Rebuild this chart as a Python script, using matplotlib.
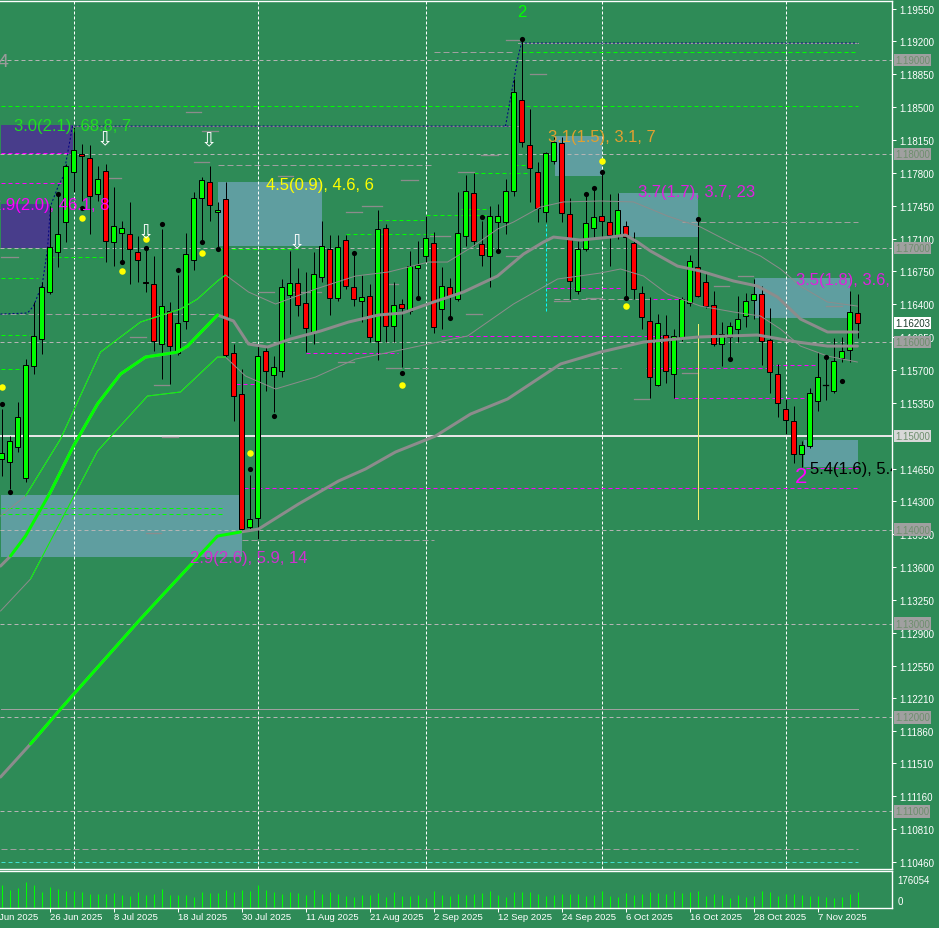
import matplotlib
matplotlib.use("Agg")
import matplotlib.pyplot as plt
from matplotlib.patches import Rectangle
from matplotlib.transforms import blended_transform_factory as btf

# ---------------- data ----------------
tick_dates = ["16 Jun 2025", "26 Jun 2025", "8 Jul 2025", "18 Jul 2025", "30 Jul 2025",
              "11 Aug 2025", "21 Aug 2025", "2 Sep 2025", "12 Sep 2025", "24 Sep 2025",
              "6 Oct 2025", "16 Oct 2025", "28 Oct 2025", "7 Nov 2025"]
tick_bars = [-2, 6, 14, 22, 30, 38, 46, 54, 62, 70, 78, 86, 94, 102]
month_start_bars = [9, 32, 53, 75, 98]

opens = [1.14752, 1.14720, 1.14880, 1.14550, 1.15742, 1.16030, 1.16531, 1.16957, 1.17276, 1.17809,
         1.18000, 1.17958, 1.17574, 1.17820, 1.17063, 1.17159, 1.17148, 1.16957, 1.16640, 1.16616,
         1.15977, 1.16328, 1.15881, 1.16222, 1.16871, 1.17532, 1.17702, 1.17383, 1.17521, 1.15881,
         1.15444, 1.14028, 1.14124, 1.15902, 1.15647, 1.15689, 1.16499, 1.16626, 1.16413, 1.16105,
         1.16690, 1.16988, 1.16467, 1.17084, 1.16584, 1.16435, 1.16488, 1.16009, 1.17212, 1.16168,
         1.16403, 1.16328, 1.16786, 1.16914, 1.17052, 1.16349, 1.16584, 1.16456, 1.17127, 1.17585,
         1.17042, 1.16914, 1.17276, 1.17276, 1.17606, 1.18575, 1.18096, 1.17809, 1.17383, 1.17926,
         1.18117, 1.17361, 1.16541, 1.16988, 1.17212, 1.17340, 1.17276, 1.17138, 1.17233, 1.17052,
         1.16520, 1.16222, 1.15540, 1.16073, 1.15657, 1.16051, 1.16413, 1.16797, 1.16637, 1.16392,
         1.15977, 1.16051, 1.16136, 1.16275, 1.16445, 1.16509, 1.16019, 1.15657, 1.15284, 1.15157,
         1.14805, 1.14891, 1.15370, 1.15545, 1.15476, 1.15828, 1.15913, 1.16307]
highs = [1.15284, 1.14997, 1.15359, 1.15817, 1.16424, 1.16637, 1.17446, 1.17574, 1.17894, 1.18288,
         1.18107, 1.18096, 1.17872, 1.17894, 1.17649, 1.17287, 1.17490, 1.17127, 1.16988, 1.16914,
         1.17201, 1.16424, 1.16712, 1.17159, 1.17596, 1.17755, 1.17872, 1.17490, 1.17702, 1.15977,
         1.15711, 1.14582, 1.15955, 1.15945, 1.15849, 1.16669, 1.16967, 1.16786, 1.16744, 1.16957,
         1.17287, 1.17138, 1.17138, 1.17138, 1.16957, 1.16712, 1.16616, 1.17404, 1.17255, 1.16637,
         1.16456, 1.16967, 1.17074, 1.17340, 1.17170, 1.16797, 1.16680, 1.17596, 1.17777, 1.17798,
         1.17287, 1.17446, 1.17468, 1.17734, 1.18799, 1.19225, 1.18479, 1.17915, 1.18022, 1.18181,
         1.18181, 1.17532, 1.17074, 1.17574, 1.17638, 1.17820, 1.17574, 1.17585, 1.17287, 1.17170,
         1.16594, 1.16477, 1.16296, 1.16286, 1.16136, 1.16477, 1.16925, 1.17319, 1.16733, 1.16541,
         1.16211, 1.16211, 1.16488, 1.16520, 1.16669, 1.16594, 1.16360, 1.15764, 1.15391, 1.15316,
         1.14944, 1.15508, 1.15891, 1.15849, 1.16041, 1.16051, 1.16541, 1.16509]
lows = [1.14571, 1.14432, 1.14827, 1.14507, 1.15657, 1.15870, 1.16509, 1.16797, 1.17063, 1.17596,
        1.17500, 1.17148, 1.17500, 1.16850, 1.16807, 1.16861, 1.16616, 1.16637, 1.16531, 1.15902,
        1.15604, 1.15551, 1.15860, 1.16136, 1.16765, 1.17074, 1.17287, 1.16988, 1.15838, 1.15157,
        1.13975, 1.13985, 1.13900, 1.15476, 1.15253, 1.15625, 1.16083, 1.16275, 1.15891, 1.15977,
        1.16637, 1.16286, 1.16435, 1.16562, 1.16381, 1.16211, 1.15998, 1.15806, 1.15998, 1.15998,
        1.15732, 1.16296, 1.16488, 1.16850, 1.16094, 1.16136, 1.16243, 1.16435, 1.17020, 1.17020,
        1.16807, 1.16584, 1.16957, 1.17148, 1.17553, 1.18075, 1.17490, 1.17276, 1.17276, 1.17894,
        1.17276, 1.16456, 1.16509, 1.16967, 1.17116, 1.17095, 1.16807, 1.17095, 1.16456, 1.16456,
        1.16136, 1.15402, 1.15529, 1.15561, 1.15402, 1.16009, 1.16381, 1.16477, 1.16360, 1.15955,
        1.15742, 1.15796, 1.15998, 1.16158, 1.16243, 1.15753, 1.15455, 1.15199, 1.15018, 1.14709,
        1.14667, 1.14869, 1.15263, 1.15380, 1.15455, 1.15785, 1.15785, 1.16040]
closes = [1.14816, 1.14944, 1.15199, 1.15753, 1.16062, 1.16584, 1.17010, 1.17148, 1.17872, 1.18043,
          1.17979, 1.17553, 1.17734, 1.17074, 1.17233, 1.17212, 1.16988, 1.16871, 1.16630, 1.16009,
          1.16381, 1.15955, 1.16200, 1.16935, 1.17532, 1.17723, 1.17457, 1.17404, 1.15860, 1.15423,
          1.14006, 1.14113, 1.15849, 1.15689, 1.15732, 1.16584, 1.16626, 1.16392, 1.16147, 1.16722,
          1.17020, 1.16467, 1.17010, 1.16594, 1.16456, 1.16477, 1.16051, 1.17201, 1.16168, 1.16392,
          1.16360, 1.16807, 1.16818, 1.17106, 1.16158, 1.16594, 1.16488, 1.17159, 1.17606, 1.17074,
          1.16925, 1.17340, 1.17340, 1.17606, 1.18661, 1.18128, 1.17851, 1.17425, 1.18011, 1.18128,
          1.17372, 1.16648, 1.16988, 1.17265, 1.17329, 1.17287, 1.17138, 1.17404, 1.17116, 1.16562,
          1.16264, 1.15625, 1.16200, 1.15689, 1.16062, 1.16456, 1.16861, 1.16488, 1.16381, 1.15977,
          1.16083, 1.16168, 1.16243, 1.16435, 1.16509, 1.16009, 1.15679, 1.15348, 1.15167, 1.14805,
          1.14901, 1.15455, 1.15625, 1.15540, 1.15796, 1.15902, 1.16318, 1.16203]
volumes = [144700, 113200, 125800, 163500, 144700, 100600, 132100, 119500, 106900, 106900,
           100600, 88100, 88100, 88100, 94400, 81800, 75500, 100600, 81800, 88100,
           119500, 81800, 81800, 81800, 69200, 100600, 94400, 94400, 113200, 100600,
           113200, 106900, 144700, 113200, 100600, 88100, 100600, 94400, 81800, 113200,
           88100, 100600, 88100, 75500, 69200, 81800, 81800, 94400, 69200, 100600,
           75500, 75500, 81800, 62900, 106900, 81800, 75500, 88100, 81800, 88100,
           94400, 106900, 81800, 69200, 100600, 100600, 100600, 88100, 75500, 81800,
           88100, 88100, 88100, 75500, 81800, 106900, 75500, 69200, 94400, 81800,
           88100, 100600, 94400, 88100, 106900, 94400, 100600, 106900, 75500, 88100,
           81800, 62900, 81800, 69200, 75500, 106900, 100600, 75500, 88100, 88100,
           81800, 75500, 75500, 69200, 62900, 69200, 88100, 100600]

# moving average (mid) and its envelope, slow moving average: (bar, price)
mid_x = [-0.125, 1.125, 3.0, 6.125, 9.0, 12.0, 14.875, 18.0, 22.0, 23.25, 27.0, 29.0, 30.875, 33.25,
         36.125, 39.875, 43.375, 47.125, 50.125, 53.625, 57.75, 62.0, 65.25, 67.75, 69.0, 72.375,
         76.125, 78.0, 79.5, 81.125, 84.5, 87.375, 91.5, 94.5, 97.0, 99.875, 103.25, 107.0]
mid_y = [1.13612, 1.13719, 1.13932, 1.14401, 1.14891, 1.15338, 1.15657, 1.15838, 1.15891, 1.15955,
         1.16286, 1.16222, 1.15977, 1.15945, 1.16030, 1.16115, 1.16211, 1.16286, 1.16307, 1.16413,
         1.16531, 1.16701, 1.16935, 1.17063, 1.17116, 1.17084, 1.17116, 1.17138, 1.17063, 1.16967,
         1.16807, 1.16754, 1.16648, 1.16594, 1.16477, 1.16243, 1.16105, 1.16105]
up_x = [-0.125, 3.0, 7.375, 12.375, 17.375, 22.375, 24.5, 27.0, 28.0, 30.875, 34.25, 39.25, 44.25,
        48.375, 53.375, 55.75, 59.0, 62.0, 64.0, 67.375, 70.25, 74.875, 79.0, 83.25, 87.375, 91.5,
        94.875, 97.375, 99.875, 103.25, 107.0]
up_y = [1.14145, 1.14358, 1.14965, 1.15891, 1.16211, 1.16349, 1.16456, 1.16648, 1.16712, 1.16531,
        1.16403, 1.16562, 1.16701, 1.16744, 1.16850, 1.16850, 1.17020, 1.17201, 1.17276, 1.17436,
        1.17490, 1.17500, 1.17490, 1.17340, 1.17223, 1.17042, 1.16914, 1.16776, 1.16594, 1.16424,
        1.16381]
lo_x = [-0.125, 3.625, 12.0, 18.25, 22.375, 27.0, 28.0, 30.5, 34.25, 39.25, 44.25, 49.25, 53.375,
        58.25, 64.0, 69.5, 74.875, 77.375, 80.25, 83.25, 87.375, 91.5, 94.875, 97.375, 99.875,
        103.25, 107.0]
lo_y = [1.13133, 1.13474, 1.14837, 1.15423, 1.15466, 1.15838, 1.15838, 1.15636, 1.15498, 1.15625,
        1.15817, 1.15902, 1.15977, 1.16062, 1.16403, 1.16669, 1.16733, 1.16776, 1.16701, 1.16509,
        1.16381, 1.16318, 1.16275, 1.16136, 1.15955, 1.15849, 1.15785]
slow_x = [-0.125, 3.625, 7.375, 12.375, 17.375, 22.0, 27.0, 29.875, 32.125, 37.125, 42.125, 45.5,
          49.25, 54.25, 58.625, 63.25, 69.875, 74.875, 80.25, 87.0, 94.5, 99.5, 103.25, 107.0]
slow_y = [1.11365, 1.11717, 1.12089, 1.12569, 1.13048, 1.13474, 1.13932, 1.13975, 1.14006, 1.14273,
          1.14518, 1.14646, 1.14827, 1.14997, 1.15231, 1.15391, 1.15764, 1.15891, 1.15998, 1.16051,
          1.16073, 1.15998, 1.15955, 1.15955]

# zones: bar range and price range
zone_x0 = [-0.125, -0.125, 27.0, -0.125, 69.125, 77.125, 94.125, 100.25]
zone_x1 = [8.875, 6.0, 40.0, 30.0, 75.0, 87.0, 106.0, 107.0]
zone_lo = [1.18000, 1.16999, 1.17020, 1.13708, 1.17766, 1.17116, 1.16254, 1.14667]
zone_hi = [1.18309, 1.17468, 1.17702, 1.14369, 1.18192, 1.17585, 1.16680, 1.14954]
zone_kind = ["supply", "supply", "zone", "zone", "zone", "zone", "zone", "zone"]

zone_text = ["3.0(2.1), 68.8, 7", "2.9(2.0), 46.1, 8", "4.5(0.9), 4.6, 6", "3.1(1.5), 3.1, 7",
             "3.7(1.7), 3.7, 23", "3.5(1.8), 3.6, 7", "5.4(1.6), 5.4, 1", "2.9(2.6), 5.9, 14"]
zone_text_x = [1.625, -1.25, 33.0, 68.25, 79.625, 99.25, 101.125, 23.625]
zone_text_y = [1.18309, 1.17468, 1.17681, 1.18192, 1.17596, 1.16669, 1.14656, 1.13708]
zone_text_col = ["#22dd22", "#ff00ff", "#ffff00", "#e0a030", "#e020e0", "#e020e0", "#000000", "#d030d0"]

arrow_x = [12.875, 25.875, 18.0, 36.875]
arrow_y = [1.18160, 1.18149, 1.17170, 1.17063]

black_dot_x = [0, 1, 7, 10, 15, 18, 20, 22, 25, 27, 31, 34, 44, 50, 52, 56, 60, 62, 65, 73, 74, 75,
               78, 87, 91, 103, 105]
black_dot_y = [1.15338, 1.14401, 1.17574, 1.17425, 1.16850, 1.16999, 1.17255, 1.16765, 1.17063,
               1.16988, 1.14646, 1.15210, 1.16946, 1.15668, 1.16467, 1.16254, 1.17329, 1.16967,
               1.19225, 1.17574, 1.17638, 1.17810, 1.16467, 1.17308, 1.15817, 1.15838, 1.15583]
yellow_dot_x = [0, 10, 15, 18, 25, 31, 50, 75, 78]
yellow_dot_y = [1.15519, 1.17319, 1.16754, 1.17095, 1.16946, 1.14816, 1.15540, 1.17926, 1.16381]

round_levels = [1.19, 1.18, 1.17, 1.16, 1.14, 1.13, 1.12, 1.11]
key_level = 1.15
last_price = 1.16203
price_ticks = [1.19550, 1.19200, 1.18850, 1.18500, 1.18150, 1.17800, 1.17450, 1.17100, 1.16750,
               1.16400, 1.16050, 1.15700, 1.15350, 1.14650, 1.14300, 1.13950, 1.13600, 1.13250,
               1.12900, 1.12550, 1.12210, 1.11860, 1.11510, 1.11160, 1.10810, 1.10460]
vol_max_label = 176054

# extra horizontal levels: (price, bar from, bar to)
magenta_lv = [(1.18011, -0.125, 8.875), (1.17691, -0.125, 7.375), (1.15881, 38.0, 49.6),
              (1.15551, 29.25, 31.75), (1.14443, 30.25, 107.0), (1.16062, 54.9, 85.5),
              (1.16573, 68.0, 77.4), (1.16456, 80.5, 84.6), (1.15721, 80.5, 95.9),
              (1.15753, 95.9, 101.75), (1.15402, 84.0, 100.9), (1.14656, 100.5, 107.0)]
green_lv = [(1.18511, -0.125, 107.0), (1.19087, 65.0, 107.0), (1.16903, 6.1, 13.0),
            (1.16680, -0.125, 4.6), (1.16073, -0.125, 3.6), (1.15711, -0.125, 2.75),
            (1.14230, -0.125, 27.5), (1.14166, -0.125, 27.5), (1.17297, 47.0, 53.0),
            (1.17350, 53.0, 60.9), (1.17414, 57.4, 61.1), (1.17148, 43.0, 54.25),
            (1.16990, 27.0, 37.0), (1.17883, 64.0, 66.1), (1.17798, 59.0, 66.1)]
gray_lv = [(1.17276, 85.1, 107.0), (1.16296, -0.125, 27.0), (1.17883, 27.0, 54.0),
           (1.15721, 48.0, 77.4), (1.19087, 54.0, 64.0), (1.16456, 69.0, 81.0),
           (1.10599, -0.125, 107.0), (1.13890, 30.1, 54.0)]
solid_gray_lv = [(1.12089, -0.125, 107.0)]
cyan_lv = [(1.10460, -0.125, 107.0)]
short_marks = [(1.18448, 23.0, 24.9), (1.18245, 25.1, 27.0), (1.17915, 24.0, 25.9),
               (1.17745, 13.0, 14.9), (1.16903, -0.125, 2.0), (1.16531, 36.1, 39.9),
               (1.17723, 49.9, 52.0), (1.17446, 45.1, 47.6), (1.16531, 32.1, 34.0),
               (1.17766, 34.5, 36.4), (1.17383, 43.0, 45.1), (1.15721, 48.0, 49.9),
               (1.16616, 48.0, 49.6), (1.16296, 58.0, 60.1), (1.15785, 42.0, 44.0),
               (1.16435, 69.0, 71.1), (1.16467, 73.0, 75.1), (1.19214, 63.0, 64.9),
               (1.18852, 66.1, 68.0), (1.17809, 57.0, 59.0), (1.16914, 63.0, 64.9),
               (1.17990, 59.9, 62.0), (1.17127, 53.6, 56.1), (1.16701, 92.0, 93.9),
               (1.16594, 89.0, 90.9), (1.15668, 85.1, 87.0), (1.16381, 103.0, 105.1),
               (1.15391, 79.0, 80.9), (1.16051, 16.1, 18.0), (1.15540, 19.0, 20.9),
               (1.14987, 20.1, 22.0), (1.13964, 18.0, 19.9)]
navy_hi_x = [-0.125, 3.25, 4.0, 5.1, 5.75, 6.125, 7.1, 7.75, 8.875, 64.5]
navy_hi_y = [1.16296, 1.16307, 1.16381, 1.16615, 1.16988, 1.17446, 1.17659, 1.17766, 1.18298, 1.18298]
navy_top_x = [63.0, 63.9, 64.6, 65.0, 107.0]
navy_top_y = [1.18298, 1.18725, 1.19044, 1.19182, 1.19182]

# ---------------- figure ----------------
W, H = 939, 929
BG = "#2e8b57"
fig = plt.figure(figsize=(W / 100, H / 100), dpi=100)
fig.patch.set_facecolor(BG)


def box(x0, y0, x1, y1):
    return [x0 / W, 1 - y1 / H, (x1 - x0) / W, (y1 - y0) / H]


ax = fig.add_axes(box(0, 2, 892, 870))
axv = fig.add_axes(box(0, 872, 892, 909))
for a in (ax, axv):
    a.set_facecolor(BG)
    a.set_xlim(-0.1875, 111.3125)
    for s in ("top", "right", "bottom"):
        a.spines[s].set_color("white")
        a.spines[s].set_linewidth(1.0)
    a.spines["left"].set_visible(False)
ax.set_ylim(1.10386, 1.19630)
PX = 0.72  # one pixel in points

# zones
for x0, x1, lo, hi, k in zip(zone_x0, zone_x1, zone_lo, zone_hi, zone_kind):
    c = "#483d8b" if k == "supply" else "#5f9ea0"
    ax.add_patch(Rectangle((x0, lo), x1 - x0, hi - lo, facecolor=c, edgecolor="none", zorder=1))

# grid-like levels
for lv in round_levels:
    ax.axhline(lv, color="#b4b4b4", lw=PX, ls=(0, (4, 3)), zorder=2)
ax.axhline(key_level, color="#e6e6e6", lw=2 * PX, zorder=2)
for b in month_start_bars:
    ax.axvline(b, color="white", lw=PX, ls=(0, (3, 2)), zorder=2)

for p, a0, a1 in magenta_lv:
    ax.plot([a0, a1], [p, p], color="#ff00ff", lw=PX, ls=(0, (4, 3)), zorder=2)
for p, a0, a1 in green_lv:
    ax.plot([a0, a1], [p, p], color="#00ff00", lw=PX, ls=(0, (4, 3)), zorder=2)
for p, a0, a1 in gray_lv:
    ax.plot([a0, a1], [p, p], color="#a0a0a0", lw=PX, ls=(0, (6, 3)), zorder=2)
for p, a0, a1 in solid_gray_lv:
    ax.plot([a0, a1], [p, p], color="#a0a0a0", lw=PX, zorder=2)
for p, a0, a1 in cyan_lv:
    ax.plot([a0, a1], [p, p], color="#40e0d0", lw=PX, ls=(0, (4, 3)), zorder=2)
for p, a0, a1 in short_marks:
    ax.plot([a0, a1], [p, p], color="#8c8c8c", lw=1.3 * PX, zorder=2)
ax.plot([64.5, 107.0], [navy_top_y[-1], navy_top_y[-1]], color="#a0a0a0", lw=PX, zorder=2)
ax.plot([8.875, 64.5], [navy_hi_y[-1], navy_hi_y[-1]], color="#8c8c8c", lw=PX, zorder=2)
ax.plot(navy_hi_x, navy_hi_y, color="#000080", lw=PX, ls=(0, (2, 2)), zorder=3)
ax.plot(navy_top_x, navy_top_y, color="#000080", lw=PX, ls=(0, (2, 2)), zorder=3)
ax.plot([68, 68], [1.16328, 1.17255], color="#00ffff", lw=PX, ls=(0, (3, 2)), zorder=2)
ax.plot([87, 87], [1.14113, 1.16190], color="#f0f070", lw=PX, zorder=2)

# candles
for i, (o, h, l, c) in enumerate(zip(opens, highs, lows, closes)):
    ax.plot([i, i], [l, h], color="black", lw=PX, zorder=4, solid_capstyle="butt")
    bot, top = min(o, c), max(o, c)
    if top - bot < 0.00008:
        ax.plot([i - 0.3, i + 0.3], [o, o], color="black", lw=1.3 * PX, zorder=5)
    else:
        ax.add_patch(Rectangle((i - 0.28, bot), 0.56, top - bot,
                               facecolor="#00ff00" if c > o else "#ff0000",
                               edgecolor="black", lw=PX, zorder=5))

# moving averages


def two_tone(xs, ys, lw, g0, g1, zo):
    ax.plot(xs, ys, color="#8c8c8c", lw=lw, zorder=zo, solid_capstyle="round")
    gx = [x for x in xs if g0 <= x <= g1]
    gy = [y for x, y in zip(xs, ys) if g0 <= x <= g1]
    ax.plot(gx, gy, color="#00ff00", lw=lw, zorder=zo + 0.1, solid_capstyle="round")


two_tone(up_x, up_y, PX, 3.0, 28.0, 6)
two_tone(lo_x, lo_y, PX, 3.6, 28.0, 6)
two_tone(mid_x, mid_y, 3 * PX, 1.1, 27.0, 6.5)
two_tone(slow_x, slow_y, 3 * PX, 3.6, 29.9, 6.5)

# markers
ax.scatter(black_dot_x, black_dot_y, s=14, color="black", zorder=7, linewidths=0)
ax.scatter(yellow_dot_x, yellow_dot_y, s=22, color="#ffff00", zorder=7, linewidths=0)
for x, y in zip(arrow_x, arrow_y):
    ax.text(x, y, "\u21e9", color="white", fontsize=14, ha="center", va="center",
            family="DejaVu Sans", zorder=8)

# zone labels
for t, x, y, c in zip(zone_text, zone_text_x, zone_text_y, zone_text_col):
    ax.text(x, y, t, color=c, fontsize=12, family="Liberation Sans", ha="left", va="center",
            zorder=9, clip_on=True)
ax.text(100.0, 1.14561, "2", color="#ff00ff", fontsize=16, family="Liberation Sans",
        ha="center", va="center", zorder=9)
ax.text(65.0, 1.19523, "2", color="#00ff00", fontsize=12, family="Liberation Sans",
        ha="center", va="center", zorder=9)
ax.text(0.2, 1.18990, "4", color="#9a9a9a", fontsize=14, family="Liberation Sans",
        ha="center", va="center", zorder=9, clip_on=True)

# right price axis
ax.yaxis.tick_right()
ax.set_yticks(price_ticks)
ax.set_yticklabels([f"{p:.5f}" for p in price_ticks])
ax.tick_params(axis="y", colors="white", length=3, width=PX, pad=2, labelsize=7)
for lab in ax.get_yticklabels():
    lab.set_family("Liberation Sans")
ax.set_xticks([])
ytr = ax.get_yaxis_transform()
for lv in round_levels:
    ax.text(1.0035, lv, f"{lv:.5f}", transform=ytr, fontsize=7, family="Liberation Sans",
            color="#6e8f6e", ha="left", va="center", clip_on=False, zorder=20,
            bbox=dict(boxstyle="square,pad=0.12", fc="#a0a0a0", ec="none"))
ax.text(1.0035, key_level, f"{key_level:.5f}", transform=ytr, fontsize=7, family="Liberation Sans",
        color="#6e8f6e", ha="left", va="center", clip_on=False, zorder=20,
        bbox=dict(boxstyle="square,pad=0.12", fc="#d8d8d8", ec="none"))
ax.text(1.0035, last_price, f"{last_price:.5f}", transform=ytr, fontsize=7, family="Liberation Sans",
        color="#1e3e2e", ha="left", va="center", clip_on=False, zorder=20,
        bbox=dict(boxstyle="square,pad=0.12", fc="white", ec="none"))

# volume pane
axv.vlines(range(len(volumes)), 0, volumes, color="#00ff00", lw=PX)
axv.set_ylim(0, vol_max_label * 37 / 28)
axv.set_yticks([])
axv.set_xticks([b for b in tick_bars if b >= 0])
axv.set_xticklabels([])
axv.tick_params(axis="x", colors="white", length=3, width=PX)
axv.text(1.006, 0.76, str(vol_max_label), transform=axv.transAxes, color="white", fontsize=7,
         family="Liberation Sans", ha="left", va="center")
axv.text(1.006, 0.19, "0", transform=axv.transAxes, color="white", fontsize=7,
         family="Liberation Sans", ha="left", va="center")
xtr = btf(axv.transData, axv.transAxes)
for b, t in zip(tick_bars, tick_dates):
    axv.text(b, -0.24, t, transform=xtr, color="white", fontsize=6.8, family="Liberation Sans",
             ha="left", va="center", clip_on=False)

fig.savefig("out.png", dpi=100, facecolor=BG)
